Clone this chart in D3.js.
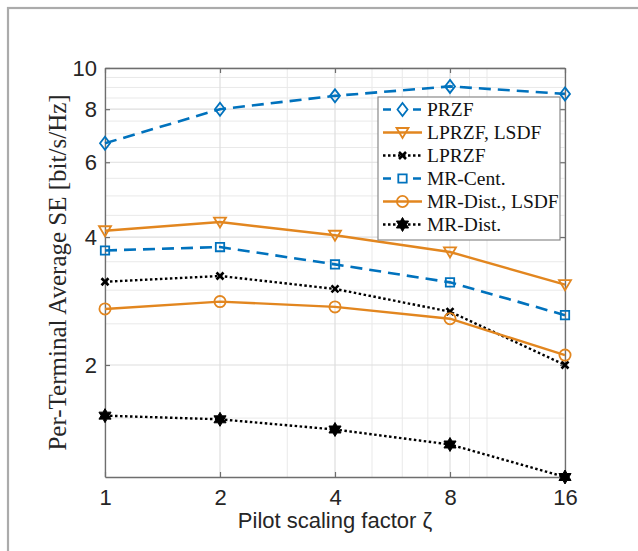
<!DOCTYPE html>
<html>
<head>
<meta charset="utf-8">
<script src="https://cdn.jsdelivr.net/npm/d3@7"></script>
<style>
	html, body { margin: 0; padding: 0; background: #fff; }
	svg { display: block; }
</style>
</head>
<body>
<div id="chart"></div>
<script>
// values
const zeta = [1, 2, 4, 8, 16];
const przf = [6.65, 8.0, 8.6, 9.05, 8.69];
const lprzfLsdf = [4.14, 4.34, 4.04, 3.69, 3.09];
const lprzf = [3.14, 3.24, 3.02, 2.67, 2.0];
const mrCent = [3.72, 3.79, 3.45, 3.13, 2.62];
const mrDistLsdf = [2.71, 2.82, 2.74, 2.57, 2.11];
const mrDist = [1.52, 1.49, 1.41, 1.30, 1.09];

const xTicks = [1, 2, 4, 8, 16];
const xMinor = [3, 5, 6, 7, 9, 10];
const yTicks = [2, 4, 6, 8, 10];
const yMinor = [1.5, 2.5, 3, 3.5, 4.5, 5, 5.5, 6.5, 7, 7.5, 8.5, 9, 9.5];
const yDomain = [1.09, 10];

const seriesNames = ['PRZF', 'LPRZF, LSDF', 'LPRZF', 'MR-Cent.', 'MR-Dist., LSDF', 'MR-Dist.'];
const seriesValues = [przf, lprzfLsdf, lprzf, mrCent, mrDistLsdf, mrDist];

const BLUE = '#0072BD';
const ORANGE = '#E2861F';

const styles = [
	{ color: BLUE, dash: '12,7', marker: 'diamond', width: 2.6 },
	{ color: ORANGE, dash: null, marker: 'triangleDown', width: 2.4 },
	{ color: '#000', dash: '2.5,2.5', marker: 'cross', width: 2.4 },
	{ color: BLUE, dash: '12,7', marker: 'square', width: 2.6 },
	{ color: ORANGE, dash: null, marker: 'circle', width: 2.4 },
	{ color: '#000', dash: '2.5,2.5', marker: 'hexagram', width: 2.4 }
];

const W = 638, H = 551;
const plot = { left: 105, right: 565, top: 68, bottom: 477 };

const svg = d3.select('#chart').append('svg')
	.attr('width', W)
	.attr('height', H);

svg.append('rect').attr('width', W).attr('height', H).attr('fill', '#fff');

// figure frame (runs off right and bottom)
svg.append('rect')
	.attr('x', 8).attr('y', 8)
	.attr('width', 700).attr('height', 700)
	.attr('fill', 'none')
	.attr('stroke', '#ababab')
	.attr('stroke-width', 2.2);

const x = d3.scaleLog().base(2).domain([1, 16]).range([plot.left, plot.right]);
const y = d3.scaleLog().domain(yDomain).range([plot.bottom, plot.top]);

/* -------------------- GRID ---------------------- */
const grid = svg.append('g');
grid.selectAll('.xminor').data(xMinor).join('line')
	.attr('x1', d => x(d)).attr('x2', d => x(d))
	.attr('y1', plot.top).attr('y2', plot.bottom)
	.attr('stroke', '#e9e9e9').attr('stroke-width', 1);
grid.selectAll('.yminor').data(yMinor).join('line')
	.attr('x1', plot.left).attr('x2', plot.right)
	.attr('y1', d => y(d)).attr('y2', d => y(d))
	.attr('stroke', '#e9e9e9').attr('stroke-width', 1);
grid.selectAll('.xmajor').data(xTicks).join('line')
	.attr('x1', d => x(d)).attr('x2', d => x(d))
	.attr('y1', plot.top).attr('y2', plot.bottom)
	.attr('stroke', '#dedede').attr('stroke-width', 1.2);
grid.selectAll('.ymajor').data(yTicks).join('line')
	.attr('x1', plot.left).attr('x2', plot.right)
	.attr('y1', d => y(d)).attr('y2', d => y(d))
	.attr('stroke', '#dedede').attr('stroke-width', 1.2);

/* -------------------- AXES ---------------------- */
const axisColor = '#6e6e6e';
const fmt = d => String(d);

const gx = svg.append('g')
	.attr('transform', `translate(0,${plot.bottom})`)
	.call(d3.axisBottom(x).tickValues(xTicks).tickFormat(fmt).tickSizeInner(-5).tickSizeOuter(0).tickPadding(12));
const gxTop = svg.append('g')
	.attr('transform', `translate(0,${plot.top})`)
	.call(d3.axisTop(x).tickValues(xTicks).tickFormat('').tickSizeInner(-5).tickSizeOuter(0));
const gy = svg.append('g')
	.attr('transform', `translate(${plot.left},0)`)
	.call(d3.axisLeft(y).tickValues(yTicks).tickFormat(fmt).tickSizeInner(-5).tickSizeOuter(0).tickPadding(8));
const gyRight = svg.append('g')
	.attr('transform', `translate(${plot.right},0)`)
	.call(d3.axisRight(y).tickValues(yTicks).tickFormat('').tickSizeInner(-5).tickSizeOuter(0));

[gx, gxTop, gy, gyRight].forEach(g => {
	g.select('.domain').attr('stroke', axisColor).attr('stroke-width', 1.3);
	g.selectAll('.tick line').attr('stroke', axisColor).attr('stroke-width', 1.2);
	g.selectAll('.tick text')
		.attr('fill', '#262626')
		.style('font-family', '"Liberation Sans", Arial, sans-serif')
		.style('font-size', '22px');
});

/* -------------------- MARKERS ---------------------- */
function markerPath(type) {
	switch (type) {
		case 'diamond':
			return 'M0,-6.5L5,0L0,6.5L-5,0Z';
		case 'triangleDown':
			return 'M-6,-4.5L6,-4.5L0,5.5Z';
		case 'square':
			return 'M-4.2,-4.2H4.2V4.2H-4.2Z';
		case 'circle':
			return d3.arc()({ innerRadius: 0, outerRadius: 5.6, startAngle: 0, endAngle: 2 * Math.PI });
		case 'cross':
			return 'M-3.5,-3.5L3.5,3.5M-3.5,3.5L3.5,-3.5';
		case 'hexagram': {
			const pts = [];
			for (let i = 0; i < 12; i++) {
				const r = i % 2 === 0 ? 7 : 4;
				const a = Math.PI / 6 * i - Math.PI / 2;
				pts.push([r * Math.cos(a), r * Math.sin(a)]);
			}
			return 'M' + pts.map(p => p.join(',')).join('L') + 'Z';
		}
	}
}

function drawMarker(g, style, cx, cy) {
	const m = g.append('path')
		.attr('d', markerPath(style.marker))
		.attr('transform', `translate(${cx},${cy})`)
		.attr('stroke', style.color);
	if (style.marker === 'hexagram') {
		m.attr('fill', style.color).attr('stroke-width', 1);
	} else if (style.marker === 'cross') {
		m.attr('fill', 'none').attr('stroke-width', 2.6);
	} else {
		m.attr('fill', 'none').attr('stroke-width', 1.8);
	}
}

/* -------------------- LINES ---------------------- */
const line = d3.line()
	.x((d, i) => x(zeta[i]))
	.y(d => y(d));

const lines = svg.append('g');
seriesValues.forEach((vals, k) => {
	const s = styles[k];
	lines.append('path')
		.datum(vals)
		.attr('d', line)
		.attr('fill', 'none')
		.attr('stroke', s.color)
		.attr('stroke-width', s.width)
		.attr('stroke-dasharray', s.dash);
	vals.forEach((v, i) => drawMarker(lines, s, x(zeta[i]), y(v)));
});

/* -------------------- LEGEND ---------------------- */
const legend = svg.append('g');
legend.append('rect')
	.attr('x', 378).attr('y', 97)
	.attr('width', 182).attr('height', 143)
	.attr('fill', '#fff')
	.attr('stroke', '#8a8a8a')
	.attr('stroke-width', 1.2);

seriesNames.forEach((name, k) => {
	const s = styles[k];
	const ly = 109.5 + k * 23;
	legend.append('line')
		.attr('x1', 383).attr('x2', 422)
		.attr('y1', ly).attr('y2', ly)
		.attr('stroke', s.color)
		.attr('stroke-width', s.width)
		.attr('stroke-dasharray', s.dash ? (s.color === BLUE ? '8,7' : s.dash) : null);
	if (s.color === BLUE) {
		// white gap behind the marker like the reference
		legend.append('rect').attr('x', 395).attr('y', ly - 7).attr('width', 14).attr('height', 14).attr('fill', '#fff');
	}
	drawMarker(legend, s, 402.5, ly);
	legend.append('text')
		.attr('x', 427).attr('y', ly)
		.attr('dy', '0.35em')
		.attr('fill', '#111')
		.style('font-family', '"Liberation Serif", "Times New Roman", serif')
		.style('font-size', '19.5px')
		.text(name);
});

/* -------------------- LABELS ---------------------- */
svg.append('text')
	.attr('x', (plot.left + plot.right) / 2)
	.attr('y', 528)
	.attr('text-anchor', 'middle')
	.attr('fill', '#262626')
	.style('font-family', '"Liberation Sans", Arial, sans-serif')
	.style('font-size', '22px')
	.text('Pilot scaling factor ζ');

svg.append('text')
	.attr('transform', `translate(66,${(plot.top + plot.bottom) / 2}) rotate(-90)`)
	.attr('text-anchor', 'middle')
	.attr('fill', '#262626')
	.style('font-family', '"Liberation Serif", "Times New Roman", serif')
	.style('font-size', '25px')
	.text('Per-Terminal Average SE [bit/s/Hz]');
</script>
</body>
</html>
